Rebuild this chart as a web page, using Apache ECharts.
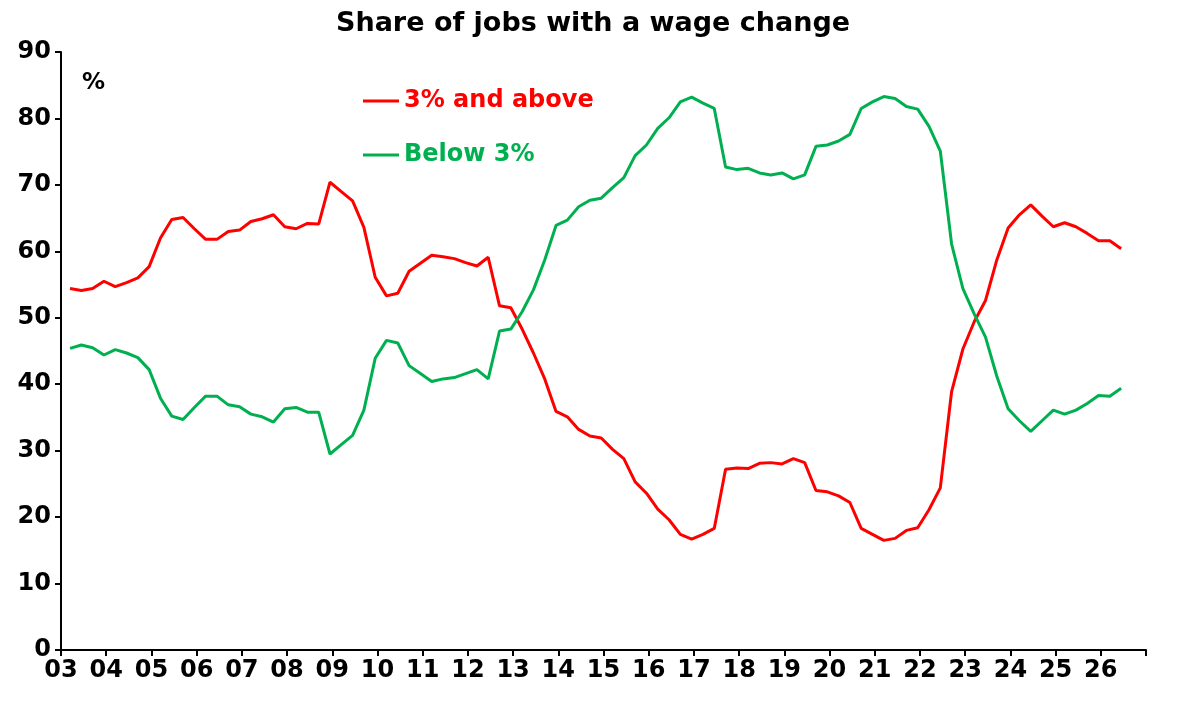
<!DOCTYPE html>
<html><head><meta charset="utf-8">
<script src="https://cdn.jsdelivr.net/npm/echarts@6/dist/echarts.min.js"></script>
<style>html,body{margin:0;padding:0;background:#fff}#c{width:1186px;height:717px}</style>
</head><body><div id="c"></div>
<script>
const startYear = 2003.2;
const step = 0.25;
const above3 = [54.4,54.1,54.4,55.5,54.7,55.3,56.0,57.7,62.0,64.8,65.1,63.4,61.8,61.8,63.0,63.2,64.5,64.9,65.5,63.7,63.4,64.2,64.1,70.4,69.0,67.6,63.6,56.1,53.3,53.7,57.0,58.2,59.4,59.2,58.9,58.3,57.8,59.1,51.8,51.5,48.3,44.7,40.8,35.9,
35.1,33.2,32.2,31.9,30.2,28.8,25.3,23.6,21.2,19.6,17.4,16.7,17.4,18.3,27.2,27.4,27.3,28.1,28.2,28.0,28.8,28.2,24.0,23.8,23.2,22.2,18.3,17.4,16.5,16.8,18.0,18.4,21.1,24.4,38.9,45.3,49.4,52.6,58.7,63.5,65.5,67.0,65.3,63.7,64.3,63.7,62.7,61.6,61.6,60.4];
const below3 = [45.4,45.9,45.5,44.4,45.2,44.7,44.0,42.2,37.9,35.2,34.7,36.5,38.2,38.2,36.9,36.6,35.5,35.1,34.3,36.3,36.5,35.8,35.8,29.5,30.9,32.3,36.1,43.9,46.6,46.2,42.8,41.6,40.4,40.8,41.0,41.6,42.2,40.8,48.0,48.3,50.9,54.2,58.7,63.9,
64.7,66.7,67.7,68.0,69.6,71.1,74.4,76.0,78.5,80.1,82.5,83.2,82.3,81.5,72.7,72.3,72.5,71.8,71.5,71.8,70.9,71.5,75.8,76.0,76.6,77.6,81.5,82.5,83.3,83.0,81.8,81.4,78.8,75.1,61.1,54.4,50.6,47.1,41.2,36.3,34.5,32.9,34.5,36.1,35.5,36.1,37.1,38.3,38.2,39.4];
const yTicks = [0,10,20,30,40,50,60,70,80,90];
const pair = arr => arr.map((v,i)=>[startYear+step*i, v]);
const F = '"DejaVu Sans", Arial, sans-serif';
const chart = echarts.init(document.getElementById('c'));
chart.setOption({
  animation:false,
  title:{text:'Share of jobs with a wage change',left:'center',top:5,textStyle:{fontFamily:F,fontSize:27,fontWeight:'bold',color:'#000'}},
  grid:{left:61,right:40,top:52,bottom:67},
  legend:{orient:'vertical',left:358,top:84,itemGap:30,itemWidth:36,itemHeight:3,icon:'rect',
    data:[{name:'3% and above',textStyle:{color:'#ff0000'}},{name:'Below 3%',textStyle:{color:'#00b050'}}],
    textStyle:{fontFamily:F,fontSize:24,fontWeight:'bold'}},
  graphic:[{type:'text',left:82,top:72,style:{text:'%',font:'bold 23px '+F,fill:'#000'}}],
  xAxis:{type:'value',min:2003,max:2027,interval:1,
    axisLine:{lineStyle:{color:'#000',width:2}},axisTick:{lineStyle:{color:'#000',width:2},length:6},
    splitLine:{show:false},
    axisLabel:{fontFamily:F,fontSize:24,fontWeight:'bold',color:'#000',margin:9,
      formatter:v=>v>2026?'':String(Math.round(v)%100).padStart(2,'0')}},
  yAxis:{type:'value',min:yTicks[0],max:yTicks[yTicks.length-1],interval:10,
    axisLine:{show:true,lineStyle:{color:'#000',width:2}},axisTick:{show:true,lineStyle:{color:'#000',width:2},length:6},
    splitLine:{show:false},
    axisLabel:{fontFamily:F,fontSize:24,fontWeight:'bold',color:'#000',margin:10}},
  series:[
    {name:'3% and above',type:'line',data:pair(above3),showSymbol:false,lineStyle:{color:'#ff0000',width:3},itemStyle:{color:'#ff0000'}},
    {name:'Below 3%',type:'line',data:pair(below3),showSymbol:false,lineStyle:{color:'#00b050',width:3},itemStyle:{color:'#00b050'}}
  ]
});
</script></body></html>
